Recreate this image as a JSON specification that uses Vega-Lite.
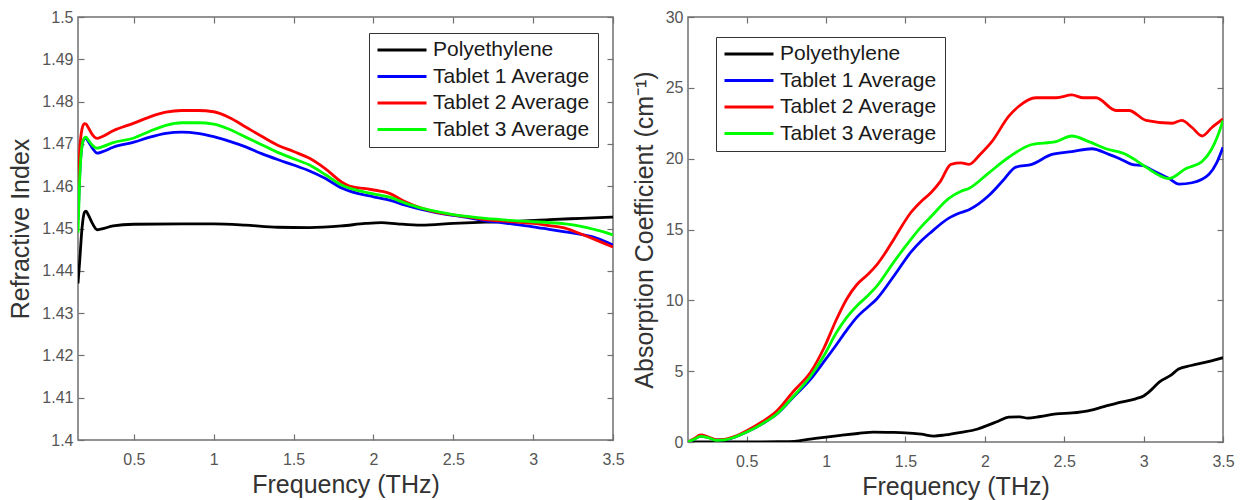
{
  "$schema": "https://vega.github.io/schema/vega-lite/v6.json",
  "background": "white",
  "padding": {"left": 8, "top": 8, "right": 5, "bottom": 5},
  "spacing": 6,
  "config": {
    "font": "Liberation Sans",
    "view": {"stroke": "#707070", "strokeWidth": 1.5},
    "axis": {
      "grid": false,
      "domain": false,
      "labelFlush": false,
      "tickColor": "#707070",
      "tickWidth": 1.2,
      "tickSize": -6,
      "labelFont": "Liberation Sans",
      "labelFontSize": 16,
      "labelColor": "#555555",
      "titleFont": "Liberation Sans",
      "titleFontSize": 25,
      "titleFontWeight": "normal",
      "titleColor": "#333333"
    },
    "axisX": {"labelPadding": 17, "titlePadding": 5},
    "axisY": {"labelPadding": 11, "titlePadding": 8},
    "legend": {
      "orient": "none",
      "title": null,
      "symbolType": "stroke",
      "symbolSize": 2401,
      "symbolStrokeWidth": 3,
      "clipHeight": 20,
      "rowPadding": 5.5,
      "padding": 7,
      "labelOffset": 5,
      "labelFont": "Liberation Sans",
      "labelFontSize": 21,
      "labelColor": "#1a1a1a",
      "strokeColor": "#333333",
      "fillColor": "white"
    }
  },
  "datasets": {
    "refractive": [
      {"s": "Polyethylene", "f": 0.15, "v": 1.437},
      {"s": "Polyethylene", "f": 0.16, "v": 1.442},
      {"s": "Polyethylene", "f": 0.175, "v": 1.45},
      {"s": "Polyethylene", "f": 0.19, "v": 1.4538},
      {"s": "Polyethylene", "f": 0.2, "v": 1.4541},
      {"s": "Polyethylene", "f": 0.215, "v": 1.4532},
      {"s": "Polyethylene", "f": 0.24, "v": 1.4512},
      {"s": "Polyethylene", "f": 0.27, "v": 1.4497},
      {"s": "Polyethylene", "f": 0.3, "v": 1.4499},
      {"s": "Polyethylene", "f": 0.37, "v": 1.4506},
      {"s": "Polyethylene", "f": 0.5, "v": 1.451},
      {"s": "Polyethylene", "f": 0.8, "v": 1.4511},
      {"s": "Polyethylene", "f": 1.0, "v": 1.4511},
      {"s": "Polyethylene", "f": 1.2, "v": 1.4508},
      {"s": "Polyethylene", "f": 1.4, "v": 1.4503},
      {"s": "Polyethylene", "f": 1.6, "v": 1.4502},
      {"s": "Polyethylene", "f": 1.8, "v": 1.4506},
      {"s": "Polyethylene", "f": 1.95, "v": 1.4512},
      {"s": "Polyethylene", "f": 2.05, "v": 1.4514},
      {"s": "Polyethylene", "f": 2.15, "v": 1.4511},
      {"s": "Polyethylene", "f": 2.3, "v": 1.4508},
      {"s": "Polyethylene", "f": 2.5, "v": 1.4512},
      {"s": "Polyethylene", "f": 2.7, "v": 1.4515},
      {"s": "Polyethylene", "f": 2.9, "v": 1.4517},
      {"s": "Polyethylene", "f": 3.1, "v": 1.4521},
      {"s": "Polyethylene", "f": 3.3, "v": 1.4524},
      {"s": "Polyethylene", "f": 3.5, "v": 1.4527},

      {"s": "Tablet 1 Average", "f": 0.15, "v": 1.452},
      {"s": "Tablet 1 Average", "f": 0.16, "v": 1.462},
      {"s": "Tablet 1 Average", "f": 0.175, "v": 1.4695},
      {"s": "Tablet 1 Average", "f": 0.19, "v": 1.4712},
      {"s": "Tablet 1 Average", "f": 0.2, "v": 1.4713},
      {"s": "Tablet 1 Average", "f": 0.215, "v": 1.4705},
      {"s": "Tablet 1 Average", "f": 0.24, "v": 1.469},
      {"s": "Tablet 1 Average", "f": 0.27, "v": 1.4678},
      {"s": "Tablet 1 Average", "f": 0.3, "v": 1.4681},
      {"s": "Tablet 1 Average", "f": 0.37, "v": 1.4692},
      {"s": "Tablet 1 Average", "f": 0.5, "v": 1.4704},
      {"s": "Tablet 1 Average", "f": 0.6, "v": 1.4716},
      {"s": "Tablet 1 Average", "f": 0.7, "v": 1.4725},
      {"s": "Tablet 1 Average", "f": 0.8, "v": 1.4728},
      {"s": "Tablet 1 Average", "f": 0.9, "v": 1.4725},
      {"s": "Tablet 1 Average", "f": 1.0, "v": 1.4717},
      {"s": "Tablet 1 Average", "f": 1.1, "v": 1.4706},
      {"s": "Tablet 1 Average", "f": 1.2, "v": 1.4693},
      {"s": "Tablet 1 Average", "f": 1.3, "v": 1.4677},
      {"s": "Tablet 1 Average", "f": 1.4, "v": 1.4663},
      {"s": "Tablet 1 Average", "f": 1.5, "v": 1.465},
      {"s": "Tablet 1 Average", "f": 1.6, "v": 1.4636},
      {"s": "Tablet 1 Average", "f": 1.7, "v": 1.4618},
      {"s": "Tablet 1 Average", "f": 1.8, "v": 1.4596},
      {"s": "Tablet 1 Average", "f": 1.9, "v": 1.4583},
      {"s": "Tablet 1 Average", "f": 2.0, "v": 1.4575},
      {"s": "Tablet 1 Average", "f": 2.1, "v": 1.4567},
      {"s": "Tablet 1 Average", "f": 2.2, "v": 1.4555},
      {"s": "Tablet 1 Average", "f": 2.3, "v": 1.4545},
      {"s": "Tablet 1 Average", "f": 2.4, "v": 1.4537},
      {"s": "Tablet 1 Average", "f": 2.5, "v": 1.4531},
      {"s": "Tablet 1 Average", "f": 2.6, "v": 1.4525},
      {"s": "Tablet 1 Average", "f": 2.7, "v": 1.4518},
      {"s": "Tablet 1 Average", "f": 2.8, "v": 1.4514},
      {"s": "Tablet 1 Average", "f": 2.9, "v": 1.4509},
      {"s": "Tablet 1 Average", "f": 3.0, "v": 1.4504},
      {"s": "Tablet 1 Average", "f": 3.1, "v": 1.4498},
      {"s": "Tablet 1 Average", "f": 3.2, "v": 1.4492},
      {"s": "Tablet 1 Average", "f": 3.3, "v": 1.4486},
      {"s": "Tablet 1 Average", "f": 3.4, "v": 1.4477},
      {"s": "Tablet 1 Average", "f": 3.5, "v": 1.4461},

      {"s": "Tablet 2 Average", "f": 0.15, "v": 1.459},
      {"s": "Tablet 2 Average", "f": 0.16, "v": 1.468},
      {"s": "Tablet 2 Average", "f": 0.175, "v": 1.4735},
      {"s": "Tablet 2 Average", "f": 0.19, "v": 1.4748},
      {"s": "Tablet 2 Average", "f": 0.2, "v": 1.4747},
      {"s": "Tablet 2 Average", "f": 0.215, "v": 1.4738},
      {"s": "Tablet 2 Average", "f": 0.24, "v": 1.4722},
      {"s": "Tablet 2 Average", "f": 0.27, "v": 1.4713},
      {"s": "Tablet 2 Average", "f": 0.3, "v": 1.4717},
      {"s": "Tablet 2 Average", "f": 0.37, "v": 1.4731},
      {"s": "Tablet 2 Average", "f": 0.5, "v": 1.4749},
      {"s": "Tablet 2 Average", "f": 0.6, "v": 1.4764},
      {"s": "Tablet 2 Average", "f": 0.7, "v": 1.4775},
      {"s": "Tablet 2 Average", "f": 0.8, "v": 1.4779},
      {"s": "Tablet 2 Average", "f": 0.9, "v": 1.4779},
      {"s": "Tablet 2 Average", "f": 1.0, "v": 1.4776},
      {"s": "Tablet 2 Average", "f": 1.1, "v": 1.4762},
      {"s": "Tablet 2 Average", "f": 1.2, "v": 1.474},
      {"s": "Tablet 2 Average", "f": 1.3, "v": 1.4718},
      {"s": "Tablet 2 Average", "f": 1.4, "v": 1.4697},
      {"s": "Tablet 2 Average", "f": 1.5, "v": 1.4682},
      {"s": "Tablet 2 Average", "f": 1.6, "v": 1.4666},
      {"s": "Tablet 2 Average", "f": 1.7, "v": 1.4641},
      {"s": "Tablet 2 Average", "f": 1.8, "v": 1.461},
      {"s": "Tablet 2 Average", "f": 1.85, "v": 1.46},
      {"s": "Tablet 2 Average", "f": 1.95, "v": 1.4594},
      {"s": "Tablet 2 Average", "f": 2.05, "v": 1.4588},
      {"s": "Tablet 2 Average", "f": 2.1, "v": 1.4583},
      {"s": "Tablet 2 Average", "f": 2.2, "v": 1.4563},
      {"s": "Tablet 2 Average", "f": 2.3, "v": 1.4548},
      {"s": "Tablet 2 Average", "f": 2.4, "v": 1.4538},
      {"s": "Tablet 2 Average", "f": 2.5, "v": 1.4532},
      {"s": "Tablet 2 Average", "f": 2.6, "v": 1.4527},
      {"s": "Tablet 2 Average", "f": 2.7, "v": 1.4521},
      {"s": "Tablet 2 Average", "f": 2.8, "v": 1.4518},
      {"s": "Tablet 2 Average", "f": 2.9, "v": 1.4515},
      {"s": "Tablet 2 Average", "f": 3.0, "v": 1.4512},
      {"s": "Tablet 2 Average", "f": 3.1, "v": 1.4507},
      {"s": "Tablet 2 Average", "f": 3.2, "v": 1.4501},
      {"s": "Tablet 2 Average", "f": 3.3, "v": 1.4487},
      {"s": "Tablet 2 Average", "f": 3.4, "v": 1.4472},
      {"s": "Tablet 2 Average", "f": 3.5, "v": 1.4456},

      {"s": "Tablet 3 Average", "f": 0.15, "v": 1.449},
      {"s": "Tablet 3 Average", "f": 0.16, "v": 1.461},
      {"s": "Tablet 3 Average", "f": 0.175, "v": 1.4695},
      {"s": "Tablet 3 Average", "f": 0.19, "v": 1.4714},
      {"s": "Tablet 3 Average", "f": 0.2, "v": 1.4716},
      {"s": "Tablet 3 Average", "f": 0.215, "v": 1.4709},
      {"s": "Tablet 3 Average", "f": 0.24, "v": 1.4697},
      {"s": "Tablet 3 Average", "f": 0.27, "v": 1.469},
      {"s": "Tablet 3 Average", "f": 0.3, "v": 1.4693},
      {"s": "Tablet 3 Average", "f": 0.37, "v": 1.4703},
      {"s": "Tablet 3 Average", "f": 0.5, "v": 1.4714},
      {"s": "Tablet 3 Average", "f": 0.6, "v": 1.473},
      {"s": "Tablet 3 Average", "f": 0.7, "v": 1.4744},
      {"s": "Tablet 3 Average", "f": 0.8, "v": 1.475},
      {"s": "Tablet 3 Average", "f": 0.9, "v": 1.475},
      {"s": "Tablet 3 Average", "f": 1.0, "v": 1.4747},
      {"s": "Tablet 3 Average", "f": 1.1, "v": 1.4734},
      {"s": "Tablet 3 Average", "f": 1.2, "v": 1.4716},
      {"s": "Tablet 3 Average", "f": 1.3, "v": 1.4698},
      {"s": "Tablet 3 Average", "f": 1.4, "v": 1.468},
      {"s": "Tablet 3 Average", "f": 1.5, "v": 1.4665},
      {"s": "Tablet 3 Average", "f": 1.6, "v": 1.465},
      {"s": "Tablet 3 Average", "f": 1.7, "v": 1.4627},
      {"s": "Tablet 3 Average", "f": 1.8, "v": 1.4603},
      {"s": "Tablet 3 Average", "f": 1.9, "v": 1.459},
      {"s": "Tablet 3 Average", "f": 2.0, "v": 1.4582},
      {"s": "Tablet 3 Average", "f": 2.1, "v": 1.4574},
      {"s": "Tablet 3 Average", "f": 2.2, "v": 1.456},
      {"s": "Tablet 3 Average", "f": 2.3, "v": 1.4548},
      {"s": "Tablet 3 Average", "f": 2.4, "v": 1.454},
      {"s": "Tablet 3 Average", "f": 2.5, "v": 1.4533},
      {"s": "Tablet 3 Average", "f": 2.6, "v": 1.4528},
      {"s": "Tablet 3 Average", "f": 2.7, "v": 1.4524},
      {"s": "Tablet 3 Average", "f": 2.8, "v": 1.4521},
      {"s": "Tablet 3 Average", "f": 2.9, "v": 1.4518},
      {"s": "Tablet 3 Average", "f": 3.0, "v": 1.4516},
      {"s": "Tablet 3 Average", "f": 3.1, "v": 1.4514},
      {"s": "Tablet 3 Average", "f": 3.2, "v": 1.4511},
      {"s": "Tablet 3 Average", "f": 3.3, "v": 1.4505},
      {"s": "Tablet 3 Average", "f": 3.4, "v": 1.4496},
      {"s": "Tablet 3 Average", "f": 3.5, "v": 1.4485}
    ],
    "absorption": [
      {"s": "Polyethylene", "f": 0.13, "v": 0.0},
      {"s": "Polyethylene", "f": 0.3, "v": 0.0},
      {"s": "Polyethylene", "f": 0.5, "v": 0.0},
      {"s": "Polyethylene", "f": 0.7, "v": 0.02},
      {"s": "Polyethylene", "f": 0.8, "v": 0.05},
      {"s": "Polyethylene", "f": 0.9, "v": 0.2},
      {"s": "Polyethylene", "f": 1.0, "v": 0.35},
      {"s": "Polyethylene", "f": 1.1, "v": 0.48},
      {"s": "Polyethylene", "f": 1.2, "v": 0.6},
      {"s": "Polyethylene", "f": 1.3, "v": 0.7},
      {"s": "Polyethylene", "f": 1.4, "v": 0.68},
      {"s": "Polyethylene", "f": 1.5, "v": 0.65},
      {"s": "Polyethylene", "f": 1.6, "v": 0.55},
      {"s": "Polyethylene", "f": 1.68, "v": 0.42},
      {"s": "Polyethylene", "f": 1.75, "v": 0.5},
      {"s": "Polyethylene", "f": 1.85, "v": 0.68},
      {"s": "Polyethylene", "f": 1.95, "v": 0.9},
      {"s": "Polyethylene", "f": 2.0, "v": 1.1},
      {"s": "Polyethylene", "f": 2.08, "v": 1.45},
      {"s": "Polyethylene", "f": 2.15, "v": 1.76},
      {"s": "Polyethylene", "f": 2.22, "v": 1.78},
      {"s": "Polyethylene", "f": 2.27, "v": 1.68},
      {"s": "Polyethylene", "f": 2.35, "v": 1.8},
      {"s": "Polyethylene", "f": 2.45, "v": 1.98},
      {"s": "Polyethylene", "f": 2.55, "v": 2.05},
      {"s": "Polyethylene", "f": 2.65, "v": 2.2},
      {"s": "Polyethylene", "f": 2.75, "v": 2.5},
      {"s": "Polyethylene", "f": 2.85, "v": 2.8},
      {"s": "Polyethylene", "f": 2.95, "v": 3.05},
      {"s": "Polyethylene", "f": 3.0, "v": 3.25},
      {"s": "Polyethylene", "f": 3.05, "v": 3.7},
      {"s": "Polyethylene", "f": 3.1, "v": 4.25},
      {"s": "Polyethylene", "f": 3.17, "v": 4.7},
      {"s": "Polyethylene", "f": 3.22, "v": 5.15},
      {"s": "Polyethylene", "f": 3.3, "v": 5.4},
      {"s": "Polyethylene", "f": 3.4, "v": 5.65},
      {"s": "Polyethylene", "f": 3.45, "v": 5.8},
      {"s": "Polyethylene", "f": 3.5, "v": 5.95},

      {"s": "Tablet 1 Average", "f": 0.13, "v": 0.0},
      {"s": "Tablet 1 Average", "f": 0.17, "v": 0.2},
      {"s": "Tablet 1 Average", "f": 0.21, "v": 0.42},
      {"s": "Tablet 1 Average", "f": 0.26, "v": 0.3},
      {"s": "Tablet 1 Average", "f": 0.31, "v": 0.14},
      {"s": "Tablet 1 Average", "f": 0.36, "v": 0.15},
      {"s": "Tablet 1 Average", "f": 0.42, "v": 0.32},
      {"s": "Tablet 1 Average", "f": 0.5, "v": 0.7},
      {"s": "Tablet 1 Average", "f": 0.6, "v": 1.3},
      {"s": "Tablet 1 Average", "f": 0.69, "v": 1.98},
      {"s": "Tablet 1 Average", "f": 0.8, "v": 3.25},
      {"s": "Tablet 1 Average", "f": 0.9, "v": 4.4},
      {"s": "Tablet 1 Average", "f": 0.985, "v": 5.65},
      {"s": "Tablet 1 Average", "f": 1.067, "v": 6.9},
      {"s": "Tablet 1 Average", "f": 1.13, "v": 7.9},
      {"s": "Tablet 1 Average", "f": 1.193, "v": 8.8},
      {"s": "Tablet 1 Average", "f": 1.26, "v": 9.5},
      {"s": "Tablet 1 Average", "f": 1.319, "v": 10.1},
      {"s": "Tablet 1 Average", "f": 1.426, "v": 11.7},
      {"s": "Tablet 1 Average", "f": 1.534, "v": 13.4},
      {"s": "Tablet 1 Average", "f": 1.6, "v": 14.2},
      {"s": "Tablet 1 Average", "f": 1.66, "v": 14.8},
      {"s": "Tablet 1 Average", "f": 1.773, "v": 15.8},
      {"s": "Tablet 1 Average", "f": 1.85, "v": 16.2},
      {"s": "Tablet 1 Average", "f": 1.9, "v": 16.4},
      {"s": "Tablet 1 Average", "f": 2.025, "v": 17.4},
      {"s": "Tablet 1 Average", "f": 2.11, "v": 18.4},
      {"s": "Tablet 1 Average", "f": 2.195, "v": 19.4},
      {"s": "Tablet 1 Average", "f": 2.296, "v": 19.6},
      {"s": "Tablet 1 Average", "f": 2.422, "v": 20.3},
      {"s": "Tablet 1 Average", "f": 2.548, "v": 20.5},
      {"s": "Tablet 1 Average", "f": 2.674, "v": 20.7},
      {"s": "Tablet 1 Average", "f": 2.781, "v": 20.3},
      {"s": "Tablet 1 Average", "f": 2.85, "v": 20.0},
      {"s": "Tablet 1 Average", "f": 2.926, "v": 19.6},
      {"s": "Tablet 1 Average", "f": 3.0, "v": 19.5},
      {"s": "Tablet 1 Average", "f": 3.052, "v": 19.2},
      {"s": "Tablet 1 Average", "f": 3.16, "v": 18.6},
      {"s": "Tablet 1 Average", "f": 3.223, "v": 18.2},
      {"s": "Tablet 1 Average", "f": 3.305, "v": 18.3},
      {"s": "Tablet 1 Average", "f": 3.412, "v": 18.9},
      {"s": "Tablet 1 Average", "f": 3.46, "v": 19.7},
      {"s": "Tablet 1 Average", "f": 3.5, "v": 20.8},

      {"s": "Tablet 2 Average", "f": 0.13, "v": 0.0},
      {"s": "Tablet 2 Average", "f": 0.17, "v": 0.25},
      {"s": "Tablet 2 Average", "f": 0.21, "v": 0.5},
      {"s": "Tablet 2 Average", "f": 0.26, "v": 0.35},
      {"s": "Tablet 2 Average", "f": 0.31, "v": 0.15},
      {"s": "Tablet 2 Average", "f": 0.36, "v": 0.18},
      {"s": "Tablet 2 Average", "f": 0.42, "v": 0.38},
      {"s": "Tablet 2 Average", "f": 0.5, "v": 0.8},
      {"s": "Tablet 2 Average", "f": 0.6, "v": 1.45},
      {"s": "Tablet 2 Average", "f": 0.689, "v": 2.19},
      {"s": "Tablet 2 Average", "f": 0.796, "v": 3.6},
      {"s": "Tablet 2 Average", "f": 0.903, "v": 4.94},
      {"s": "Tablet 2 Average", "f": 0.985, "v": 6.6},
      {"s": "Tablet 2 Average", "f": 1.067, "v": 8.7},
      {"s": "Tablet 2 Average", "f": 1.13, "v": 10.1},
      {"s": "Tablet 2 Average", "f": 1.193, "v": 11.1},
      {"s": "Tablet 2 Average", "f": 1.26, "v": 11.8},
      {"s": "Tablet 2 Average", "f": 1.319, "v": 12.5},
      {"s": "Tablet 2 Average", "f": 1.37, "v": 13.3},
      {"s": "Tablet 2 Average", "f": 1.426, "v": 14.3},
      {"s": "Tablet 2 Average", "f": 1.534, "v": 16.2},
      {"s": "Tablet 2 Average", "f": 1.6, "v": 17.0},
      {"s": "Tablet 2 Average", "f": 1.66, "v": 17.6},
      {"s": "Tablet 2 Average", "f": 1.72, "v": 18.4},
      {"s": "Tablet 2 Average", "f": 1.786, "v": 19.6},
      {"s": "Tablet 2 Average", "f": 1.85, "v": 19.7},
      {"s": "Tablet 2 Average", "f": 1.9, "v": 19.6},
      {"s": "Tablet 2 Average", "f": 1.97, "v": 20.3},
      {"s": "Tablet 2 Average", "f": 2.044, "v": 21.2},
      {"s": "Tablet 2 Average", "f": 2.151, "v": 23.0},
      {"s": "Tablet 2 Average", "f": 2.214, "v": 23.7},
      {"s": "Tablet 2 Average", "f": 2.321, "v": 24.3},
      {"s": "Tablet 2 Average", "f": 2.45, "v": 24.3},
      {"s": "Tablet 2 Average", "f": 2.548, "v": 24.5},
      {"s": "Tablet 2 Average", "f": 2.62, "v": 24.3},
      {"s": "Tablet 2 Average", "f": 2.7, "v": 24.3},
      {"s": "Tablet 2 Average", "f": 2.826, "v": 23.4},
      {"s": "Tablet 2 Average", "f": 2.908, "v": 23.4},
      {"s": "Tablet 2 Average", "f": 3.015, "v": 22.7},
      {"s": "Tablet 2 Average", "f": 3.18, "v": 22.5},
      {"s": "Tablet 2 Average", "f": 3.24, "v": 22.7},
      {"s": "Tablet 2 Average", "f": 3.305, "v": 22.2},
      {"s": "Tablet 2 Average", "f": 3.368, "v": 21.6},
      {"s": "Tablet 2 Average", "f": 3.43, "v": 22.2},
      {"s": "Tablet 2 Average", "f": 3.5, "v": 22.8},

      {"s": "Tablet 3 Average", "f": 0.13, "v": 0.0},
      {"s": "Tablet 3 Average", "f": 0.17, "v": 0.2},
      {"s": "Tablet 3 Average", "f": 0.21, "v": 0.4},
      {"s": "Tablet 3 Average", "f": 0.26, "v": 0.3},
      {"s": "Tablet 3 Average", "f": 0.31, "v": 0.12},
      {"s": "Tablet 3 Average", "f": 0.36, "v": 0.15},
      {"s": "Tablet 3 Average", "f": 0.42, "v": 0.33},
      {"s": "Tablet 3 Average", "f": 0.5, "v": 0.7},
      {"s": "Tablet 3 Average", "f": 0.6, "v": 1.3},
      {"s": "Tablet 3 Average", "f": 0.689, "v": 1.98},
      {"s": "Tablet 3 Average", "f": 0.796, "v": 3.25},
      {"s": "Tablet 3 Average", "f": 0.903, "v": 4.66},
      {"s": "Tablet 3 Average", "f": 0.985, "v": 6.07},
      {"s": "Tablet 3 Average", "f": 1.067, "v": 7.76},
      {"s": "Tablet 3 Average", "f": 1.13, "v": 8.8},
      {"s": "Tablet 3 Average", "f": 1.193, "v": 9.6},
      {"s": "Tablet 3 Average", "f": 1.26, "v": 10.3},
      {"s": "Tablet 3 Average", "f": 1.319, "v": 11.0},
      {"s": "Tablet 3 Average", "f": 1.426, "v": 12.7},
      {"s": "Tablet 3 Average", "f": 1.534, "v": 14.3},
      {"s": "Tablet 3 Average", "f": 1.6, "v": 15.2},
      {"s": "Tablet 3 Average", "f": 1.66, "v": 15.9},
      {"s": "Tablet 3 Average", "f": 1.773, "v": 17.2},
      {"s": "Tablet 3 Average", "f": 1.85, "v": 17.7},
      {"s": "Tablet 3 Average", "f": 1.899, "v": 17.9},
      {"s": "Tablet 3 Average", "f": 2.025, "v": 19.0},
      {"s": "Tablet 3 Average", "f": 2.151, "v": 20.1},
      {"s": "Tablet 3 Average", "f": 2.296, "v": 21.0},
      {"s": "Tablet 3 Average", "f": 2.447, "v": 21.2},
      {"s": "Tablet 3 Average", "f": 2.548, "v": 21.6},
      {"s": "Tablet 3 Average", "f": 2.655, "v": 21.2},
      {"s": "Tablet 3 Average", "f": 2.763, "v": 20.7},
      {"s": "Tablet 3 Average", "f": 2.889, "v": 20.3},
      {"s": "Tablet 3 Average", "f": 2.95, "v": 19.9},
      {"s": "Tablet 3 Average", "f": 3.015, "v": 19.4},
      {"s": "Tablet 3 Average", "f": 3.16, "v": 18.6},
      {"s": "Tablet 3 Average", "f": 3.267, "v": 19.3},
      {"s": "Tablet 3 Average", "f": 3.368, "v": 19.8},
      {"s": "Tablet 3 Average", "f": 3.43, "v": 20.7},
      {"s": "Tablet 3 Average", "f": 3.47, "v": 21.7},
      {"s": "Tablet 3 Average", "f": 3.5, "v": 22.7}
    ]
  },
  "hconcat": [
    {
      "width": 535,
      "height": 423,
      "layer": [
        {
          "data": {"name": "refractive"},
          "mark": {"type": "line", "strokeWidth": 2.8, "interpolate": "monotone", "clip": true},
          "encoding": {
            "x": {"field": "f", "type": "quantitative",
                  "scale": {"domain": [0.15, 3.5], "nice": false, "zero": false},
                  "axis": {"values": [0.5, 1, 1.5, 2, 2.5, 3, 3.5], "format": "~g", "title": "Frequency (THz)"}},
            "y": {"field": "v", "type": "quantitative",
                  "scale": {"domain": [1.4, 1.5], "nice": false, "zero": false},
                  "axis": {"values": [1.4, 1.41, 1.42, 1.43, 1.44, 1.45, 1.46, 1.47, 1.48, 1.49, 1.5], "format": "~g", "title": "Refractive Index"}},
            "color": {"field": "s", "type": "nominal",
                      "scale": {"domain": ["Polyethylene", "Tablet 1 Average", "Tablet 2 Average", "Tablet 3 Average"],
                                "range": ["#000000", "#0000ff", "#ff0000", "#00ff00"]},
                      "legend": {"legendX": 291, "legendY": 16}}
          }
        },
        {
          "data": {"name": "refractive"},
          "mark": {"type": "point", "opacity": 0},
          "encoding": {
            "x": {"field": "f", "type": "quantitative",
                  "axis": {"orient": "top", "values": [0.5, 1, 1.5, 2, 2.5, 3, 3.5], "labels": false, "title": null}},
            "y": {"field": "v", "type": "quantitative",
                  "axis": {"orient": "right", "values": [1.4, 1.41, 1.42, 1.43, 1.44, 1.45, 1.46, 1.47, 1.48, 1.49, 1.5], "labels": false, "title": null}}
          }
        }
      ],
      "resolve": {"axis": {"x": "independent", "y": "independent"}}
    },
    {
      "width": 535,
      "height": 425,
      "layer": [
        {
          "data": {"name": "absorption"},
          "mark": {"type": "line", "strokeWidth": 2.8, "interpolate": "monotone", "clip": true},
          "encoding": {
            "x": {"field": "f", "type": "quantitative",
                  "scale": {"domain": [0.13, 3.5], "nice": false, "zero": false},
                  "axis": {"values": [0.5, 1, 1.5, 2, 2.5, 3, 3.5], "format": "~g", "title": "Frequency (THz)"}},
            "y": {"field": "v", "type": "quantitative",
                  "scale": {"domain": [0, 30], "nice": false},
                  "axis": {"values": [0, 5, 10, 15, 20, 25, 30], "format": "~g", "title": "Absorption Coefficient (cm⁻¹)"}},
            "color": {"field": "s", "type": "nominal",
                      "scale": {"domain": ["Polyethylene", "Tablet 1 Average", "Tablet 2 Average", "Tablet 3 Average"],
                                "range": ["#000000", "#0000ff", "#ff0000", "#00ff00"]},
                      "legend": {"legendX": 28, "legendY": 20}}
          }
        },
        {
          "data": {"name": "absorption"},
          "mark": {"type": "point", "opacity": 0},
          "encoding": {
            "x": {"field": "f", "type": "quantitative",
                  "axis": {"orient": "top", "values": [0.5, 1, 1.5, 2, 2.5, 3, 3.5], "labels": false, "title": null}},
            "y": {"field": "v", "type": "quantitative",
                  "axis": {"orient": "right", "values": [0, 5, 10, 15, 20, 25, 30], "labels": false, "title": null}}
          }
        }
      ],
      "resolve": {"axis": {"x": "independent", "y": "independent"}}
    }
  ],
  "resolve": {"scale": {"color": "independent"}, "legend": {"color": "independent"}}
}
